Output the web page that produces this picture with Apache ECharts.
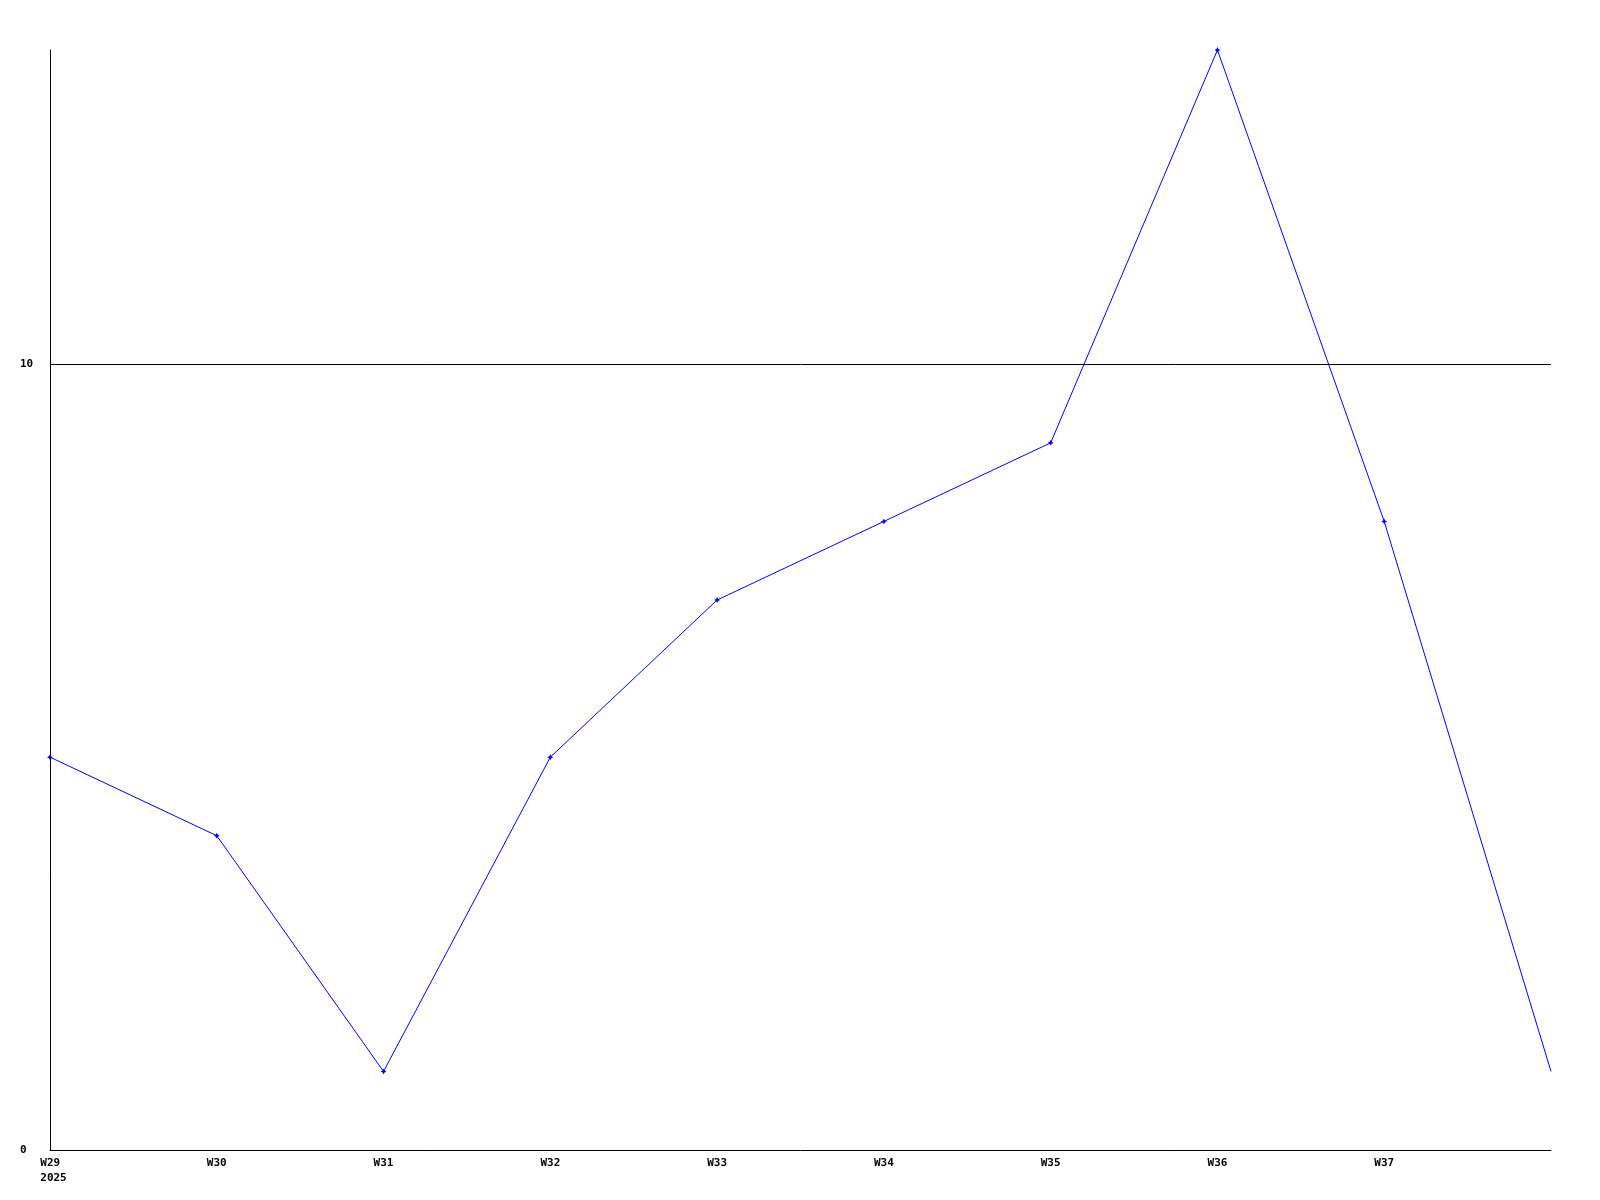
<!DOCTYPE html>
<html>
<head>
<meta charset="utf-8">
<script src="https://cdn.jsdelivr.net/npm/echarts@6/dist/echarts.min.js"></script>
<style>
  html, body { margin: 0; padding: 0; background: #fff; }
  #chart { width: 1600px; height: 1200px; }
</style>
</head>
<body>
<div id="chart"></div>
<script>
// weekly values
const weeks = ['W29', 'W30', 'W31', 'W32', 'W33', 'W34', 'W35', 'W36', 'W37', ''];
const yearLabel = '2025';
const counts = [5, 4, 1, 5, 7, 8, 9, 14, 8, 1];
const yTicks = [0, 10];

const font = '"DejaVu Sans Mono", monospace';

// the last point (partial week) has no marker in the picture
const seriesData = counts.map((v, i) => i === counts.length - 1 ? { value: v, symbol: 'none' } : v);

let myChart = echarts.init(document.getElementById('chart'));
myChart.setOption({
  animation: false,
  backgroundColor: '#fff',
  grid: { left: 50, right: 49, top: 50, bottom: 50 },
  xAxis: {
    type: 'category',
    boundaryGap: false,
    data: weeks,
    axisLine: { show: true, lineStyle: { color: '#000', width: 1 } },
    axisTick: { show: false },
    splitLine: { show: false },
    axisLabel: {
      interval: 0,
      margin: 6,
      color: '#000',
      fontFamily: font,
      fontWeight: 'bold',
      fontSize: 11,
      lineHeight: 15,
      formatter: function (val, idx) {
        if (idx === 0) return '{a|' + val + '}\n{a|' + yearLabel + '}';
        return val;
      },
      rich: {
        a: { align: 'left', fontFamily: font, fontWeight: 'bold', fontSize: 11, color: '#000', lineHeight: 15, padding: [0, 0, 0, 7] }
      }
    }
  },
  yAxis: {
    type: 'value',
    min: 0,
    max: 14,
    interval: 10,
    axisLine: { show: true, lineStyle: { color: '#000', width: 1 } },
    axisTick: { show: false },
    splitLine: { show: false },
    axisLabel: {
      showMaxLabel: false,
      align: 'left',
      margin: 30,
      color: '#000',
      fontFamily: font,
      fontWeight: 'bold',
      fontSize: 11,
      formatter: function (v) { return yTicks.includes(v) ? String(v) : ''; }
    }
  },
  series: [{
    type: 'line',
    data: seriesData,
    symbol: 'path://M0,-3 L1,-1 L3,0 L1,1 L0,3 L-1,1 L-3,0 L-1,-1 Z',
    symbolSize: 6,
    showSymbol: true,
    lineStyle: { color: '#0000ff', width: 1 },
    itemStyle: { color: '#0000ff' },
    markLine: {
      silent: true,
      symbol: 'none',
      label: { show: false },
      lineStyle: { color: '#000', width: 1, type: 'solid' },
      data: yTicks.filter(v => v > 0).map(v => ({ yAxis: v }))
    },
    z: 3
  }]
});
</script>
</body>
</html>
